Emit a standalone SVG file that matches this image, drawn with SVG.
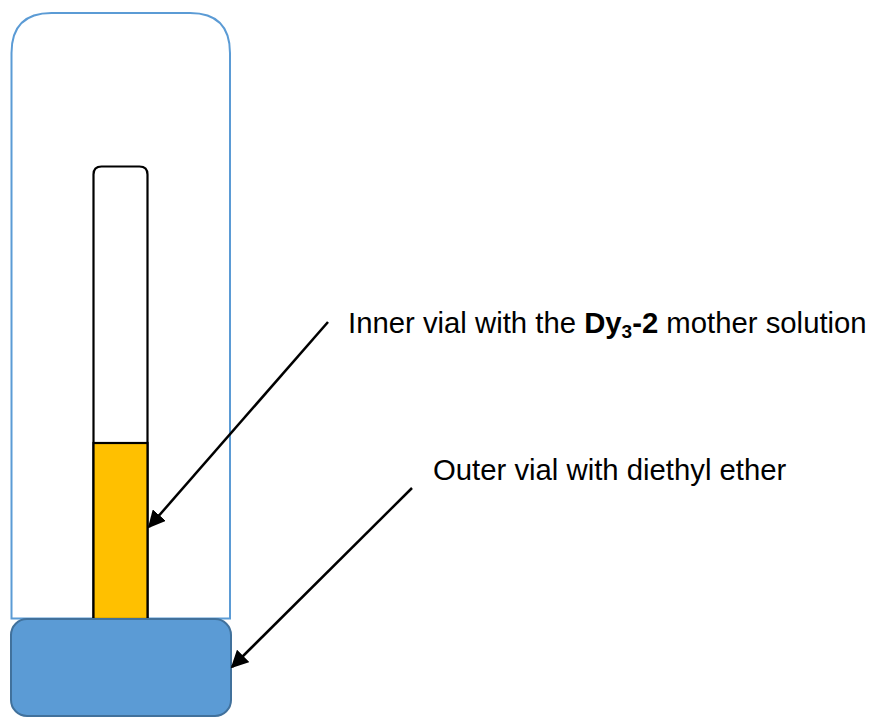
<svg xmlns="http://www.w3.org/2000/svg" width="872" height="717" viewBox="0 0 872 717">
  <defs>
    <style>
      .label { font-family: "Liberation Sans", Arial, sans-serif; font-size: 29.3px; fill: #000; }
      .bold { font-weight: bold; }
      .leader { stroke: #000; stroke-width: 2.5; fill: none; marker-end: url(#head); }
    </style>
    <marker id="head" viewBox="0 0 10 10" refX="9" refY="5" markerWidth="7" markerHeight="7" markerUnits="strokeWidth" orient="auto">
      <path d="M0,0 L10,5 L0,10 z" fill="#000"/>
    </marker>
  </defs>

  <rect width="872" height="717" fill="#fff"/>

  <!-- outer vial: rounded top, flat base -->
  <g id="outer-vial">
    <path d="M11.5,618.5 V53 Q11.5,13 51.5,13 H190 Q230,13 230,53 V618.5 Z" fill="#fff" stroke="#5B9BD5" stroke-width="2"/>
  </g>

  <!-- inner vial with solution -->
  <g id="inner-vial">
    <path d="M93.5,619 V174.5 Q93.5,166.5 101.5,166.5 H139.5 Q147.5,166.5 147.5,174.5 V619" fill="#fff" stroke="#000" stroke-width="2.2"/>
    <rect x="93.5" y="443" width="54" height="176" fill="#FFC000" stroke="#000" stroke-width="2.2"/>
  </g>

  <!-- diethyl ether layer -->
  <g id="ether">
    <rect x="11" y="619" width="220" height="97" rx="16" ry="16" fill="#5B9BD5" stroke="#41719C" stroke-width="2"/>
  </g>

  <!-- labels -->
  <g id="label-inner">
    <text class="label" x="348" y="333">Inner vial with the <tspan class="bold">Dy</tspan><tspan class="bold" font-size="19" dy="5">3</tspan><tspan class="bold" dy="-5">-2</tspan> mother solution</text>
  </g>
  <g id="label-outer">
    <text class="label" x="433" y="480">Outer vial with diethyl ether</text>
  </g>

  <!-- leader arrows -->
  <g id="connectors">
    <line class="leader" x1="328" y1="322" x2="149" y2="527"/>
    <line class="leader" x1="412" y1="488" x2="232" y2="667"/>
  </g>
</svg>
